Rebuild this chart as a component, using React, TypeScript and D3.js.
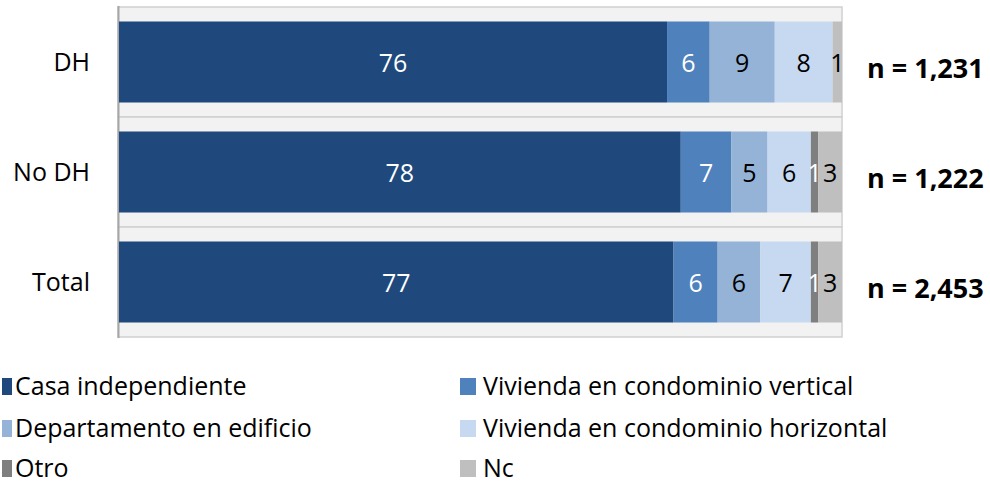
import React from "react";
import * as d3 from "d3";

const categories = ["DH", "No DH", "Total"];
const seriesNames = [
  "Casa independiente",
  "Vivienda en condominio vertical",
  "Departamento en edificio",
  "Vivienda en condominio horizontal",
  "Otro",
  "Nc",
];
const casa = [75.8, 77.7, 76.7];
const vertical = [5.9, 7.0, 6.1];
const departamento = [9.0, 5.0, 5.9];
const horizontal = [8.0, 6.0, 7.0];
const otro = [0, 1.0, 1.0];
const nc = [1.3, 3.3, 3.3];
const nLabels = ["n = 1,231", "n = 1,222", "n = 2,453"];

const colors = ["#1f497d", "#4f81bd", "#95b3d7", "#c6d9f0", "#7f7f7f", "#bfbfbf"];
const labelColors = ["#ffffff", "#ffffff", "#000000", "#000000", "#ffffff", "#000000"];

const W = 990;
const H = 485;
const FONT = "'Open Sans', 'Noto Sans', sans-serif";

export default function App() {
  const series = [casa, vertical, departamento, horizontal, otro, nc];
  const x = d3.scaleLinear().domain([0, 100]).range([119, 842]);
  const yBand = d3.scaleBand<string>().domain(categories).range([7, 337]).padding(0);
  const yBar = d3
    .scaleBand<string>()
    .domain(categories)
    .range([7, 337])
    .paddingInner(0.2636)
    .paddingOuter(0.1318);

  const rows = categories.map((c, i) => {
    const data: Record<string, number> = {};
    seriesNames.forEach((s, k) => (data[s] = series[k][i]));
    return { cat: c, ...data };
  });
  const stack = d3.stack<any>().keys(seriesNames);
  const stacked = stack(rows);

  const legendBaselines = [395, 437, 477];
  const legendSquareX = [2, 460];
  const legendSquareW = [10, 16];
  const legendTextX = [15, 483];

  return (
    <svg
      width={W}
      height={H}
      style={{ position: "absolute", left: 0, top: 0, background: "#fff" }}
      fontFamily={FONT}
    >
      {categories.map((c) => (
        <rect
          key={"band" + c}
          x={118}
          y={yBand(c)!}
          width={842 - 118}
          height={yBand.bandwidth()}
          fill="#f2f2f2"
          stroke="#d0d0d0"
          strokeWidth={1.5}
        />
      ))}
      <line x1={118.5} x2={118.5} y1={6} y2={338} stroke="#a6a6a6" strokeWidth={2} />
      {stacked.map((layer, k) => (
        <g key={layer.key}>
          {layer.map((d, i) => {
            const v = d[1] - d[0];
            if (v <= 0) return null;
            const x0 = x(d[0]);
            const x1 = x(d[1]);
            const y0 = yBar(categories[i])!;
            return (
              <g key={i}>
                <rect x={x0} y={y0} width={x1 - x0} height={yBar.bandwidth()} fill={colors[k]} />
                <text
                  x={(x0 + x1) / 2}
                  y={y0 + yBar.bandwidth() / 2 + 1}
                  dy="0.35em"
                  textAnchor="middle"
                  fontSize={25}
                  fill={labelColors[k]}
                >
                  {d3.format(".0f")(v)}
                </text>
              </g>
            );
          })}
        </g>
      ))}
      {categories.map((c, i) => (
        <g key={"lab" + c}>
          <text
            x={90}
            y={yBar(c)! + yBar.bandwidth() / 2}
            dy="0.35em"
            textAnchor="end"
            fontSize={25}
            fill="#000"
          >
            {c}
          </text>
          <text
            x={867}
            y={yBar(c)! + yBar.bandwidth() / 2 + 6.5}
            dy="0.35em"
            textAnchor="start"
            fontSize={27}
            fontWeight="bold"
            fill="#000"
          >
            {nLabels[i]}
          </text>
        </g>
      ))}
      {seriesNames.map((s, k) => {
        const col = k % 2;
        const row = Math.floor(k / 2);
        const by = legendBaselines[row];
        return (
          <g key={"leg" + s}>
            <rect
              x={legendSquareX[col]}
              y={by - 17}
              width={legendSquareW[col]}
              height={17}
              fill={colors[k]}
            />
            <text x={legendTextX[col]} y={by} fontSize={25} fill="#000">
              {s}
            </text>
          </g>
        );
      })}
    </svg>
  );
}
